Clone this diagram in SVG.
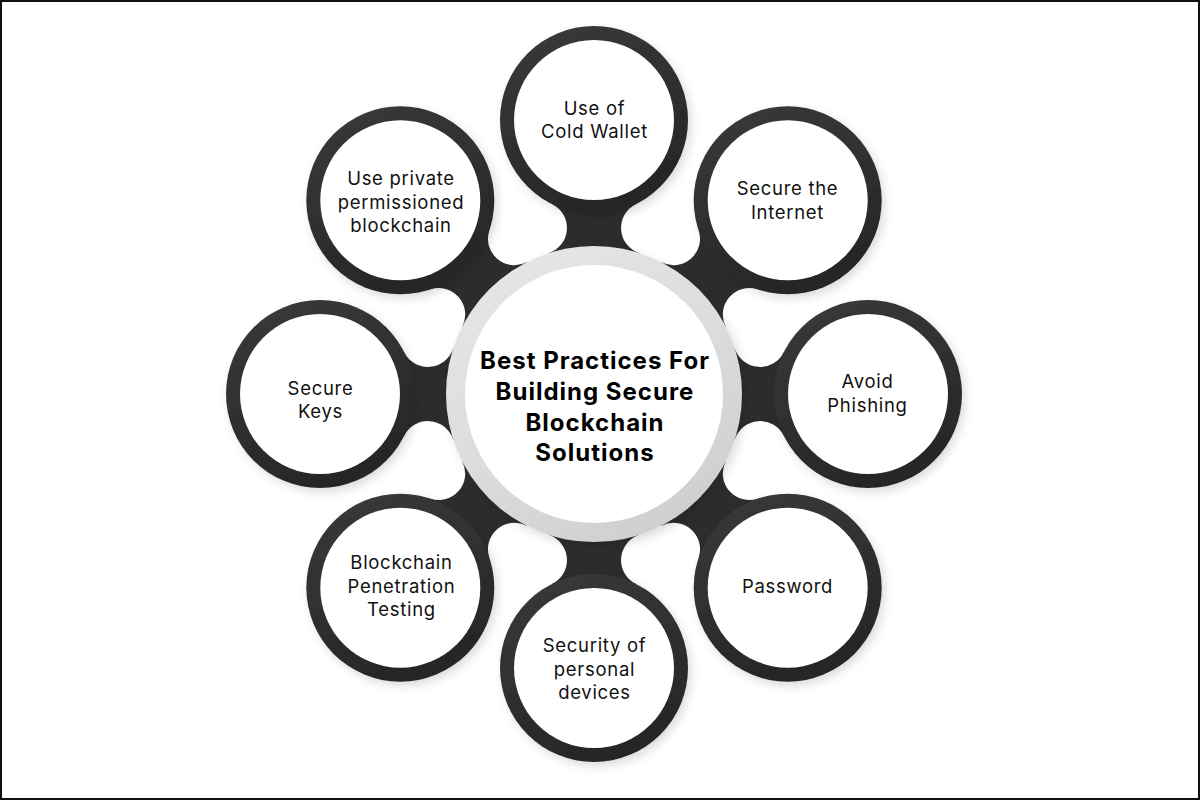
<svg xmlns="http://www.w3.org/2000/svg" width="1200" height="800" viewBox="0 0 1200 800">
  <defs>
    <linearGradient id="grayRing" x1="0" y1="0" x2="0.6" y2="1">
      <stop offset="0" stop-color="#e8e8e8"/>
      <stop offset="0.6" stop-color="#dcdcdc"/>
      <stop offset="1" stop-color="#d0d0d0"/>
    </linearGradient>
    <linearGradient id="darkRing" x1="0" y1="0" x2="0.4" y2="1">
      <stop offset="0" stop-color="#3a3a3a"/>
      <stop offset="1" stop-color="#272727"/>
    </linearGradient>
    <filter id="shadow" x="-20%" y="-20%" width="140%" height="140%">
      <feDropShadow dx="3" dy="4" stdDeviation="5" flood-color="#000" flood-opacity="0.14"/>
    </filter>
    <path id="neck" d="M0,0 L140.85,-45.44 A26.5,26.5 0 0 0 189.81,-41.80 L274,0 L189.81,41.80 A26.5,26.5 0 0 0 140.85,45.44 Z"/>
  </defs>
  <style>
    .neck { fill: #2c2c2c; }
    .ring { fill: url(#darkRing); }
    .inner { fill: #ffffff; }
    .lbl { font-family: Inter, "Liberation Sans", Arial, sans-serif; font-size: 18.5px; letter-spacing: 0.7px; fill: #111111; text-anchor: middle; }
    .title { font-family: Inter, "Liberation Sans", Arial, sans-serif; font-size: 24px; letter-spacing: 1px; font-weight: 700; fill: #000000; text-anchor: middle; }
  </style>

  <rect x="0" y="0" width="1200" height="800" fill="#ffffff"/>

  <g id="connectors">
    <use href="#neck" class="neck" transform="translate(594,394) rotate(-90)"/>
    <use href="#neck" class="neck" transform="translate(594,394) rotate(-45)"/>
    <use href="#neck" class="neck" transform="translate(594,394) rotate(0)"/>
    <use href="#neck" class="neck" transform="translate(594,394) rotate(45)"/>
    <use href="#neck" class="neck" transform="translate(594,394) rotate(90)"/>
    <use href="#neck" class="neck" transform="translate(594,394) rotate(135)"/>
    <use href="#neck" class="neck" transform="translate(594,394) rotate(180)"/>
    <use href="#neck" class="neck" transform="translate(594,394) rotate(225)"/>
  </g>

  <g id="node-cold-wallet">
    <circle cx="594" cy="120" r="94" class="ring" filter="url(#shadow)"/>
    <circle cx="594" cy="120" r="80" class="inner"/>
    <text class="lbl" x="594.5" y="115">Use of</text>
    <text class="lbl" x="594.5" y="138">Cold Wallet</text>
  </g>

  <g id="node-secure-internet">
    <circle cx="787.7" cy="200.3" r="94" class="ring" filter="url(#shadow)"/>
    <circle cx="787.7" cy="200.3" r="80" class="inner"/>
    <text class="lbl" x="787.5" y="195">Secure the</text>
    <text class="lbl" x="787.5" y="219">Internet</text>
  </g>

  <g id="node-avoid-phishing">
    <circle cx="868" cy="394" r="94" class="ring" filter="url(#shadow)"/>
    <circle cx="868" cy="394" r="80" class="inner"/>
    <text class="lbl" x="867.5" y="388">Avoid</text>
    <text class="lbl" x="867.5" y="412">Phishing</text>
  </g>

  <g id="node-password">
    <circle cx="787.7" cy="587.7" r="94" class="ring" filter="url(#shadow)"/>
    <circle cx="787.7" cy="587.7" r="80" class="inner"/>
    <text class="lbl" x="787.5" y="593">Password</text>
  </g>

  <g id="node-personal-devices">
    <circle cx="594" cy="668" r="94" class="ring" filter="url(#shadow)"/>
    <circle cx="594" cy="668" r="80" class="inner"/>
    <text class="lbl" x="594.5" y="652">Security of</text>
    <text class="lbl" x="594.5" y="676">personal</text>
    <text class="lbl" x="594.5" y="699">devices</text>
  </g>

  <g id="node-penetration-testing">
    <circle cx="400.3" cy="587.7" r="94" class="ring" filter="url(#shadow)"/>
    <circle cx="400.3" cy="587.7" r="80" class="inner"/>
    <text class="lbl" x="401.5" y="569">Blockchain</text>
    <text class="lbl" x="401.5" y="593">Penetration</text>
    <text class="lbl" x="401.5" y="616">Testing</text>
  </g>

  <g id="node-secure-keys">
    <circle cx="320" cy="394" r="94" class="ring" filter="url(#shadow)"/>
    <circle cx="320" cy="394" r="80" class="inner"/>
    <text class="lbl" x="320.5" y="395">Secure</text>
    <text class="lbl" x="320.5" y="418">Keys</text>
  </g>

  <g id="node-private-blockchain">
    <circle cx="400.3" cy="200.3" r="94" class="ring" filter="url(#shadow)"/>
    <circle cx="400.3" cy="200.3" r="80" class="inner"/>
    <text class="lbl" x="401" y="185">Use private</text>
    <text class="lbl" x="401" y="209">permissioned</text>
    <text class="lbl" x="401" y="232">blockchain</text>
  </g>

  <g id="node-center">
    <circle cx="594" cy="394" r="148" fill="url(#grayRing)" filter="url(#shadow)"/>
    <circle cx="594" cy="394" r="129" fill="#ffffff"/>
    <text class="title" x="595" y="369">Best Practices For</text>
    <text class="title" x="595" y="400">Building Secure</text>
    <text class="title" x="595" y="431">Blockchain</text>
    <text class="title" x="595" y="461">Solutions</text>
  </g>

  <rect x="1" y="1" width="1198" height="798" fill="none" stroke="#111111" stroke-width="2"/>
</svg>
